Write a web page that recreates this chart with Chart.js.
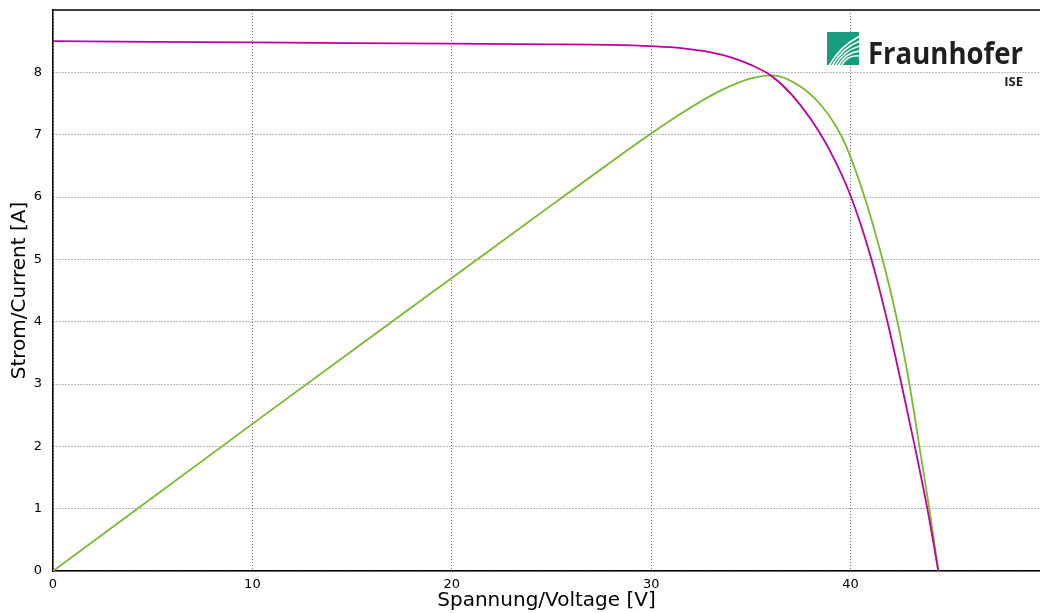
<!DOCTYPE html>
<html>
<head>
<meta charset="utf-8">
<script src="https://cdn.jsdelivr.net/npm/chart.js@4.4.1/dist/chart.umd.min.js"></script>
<style>
  html, body { margin: 0; padding: 0; background: #fff; }
  #wrap { width: 1040px; height: 613px; }
</style>
</head>
<body>
<div id="wrap"><canvas id="myChart"></canvas></div>
<script>
// Kennlinie: Spannung [V] / Strom [A]
var voltageIV = [0, 5, 10, 15, 20, 25, 28, 30, 31.5, 33, 34, 35, 36, 37, 38, 39, 40, 41, 41.85, 42.55, 43.22, 43.85, 44.4];
var currentIV = [8.50, 8.49, 8.48, 8.47, 8.46, 8.45, 8.44, 8.42, 8.39, 8.32, 8.24, 8.12, 7.95, 7.66, 7.25, 6.72, 6.02, 5.05, 4.00, 3.00, 2.00, 1.00, 0];

// Leistungskurve (skaliert)
var voltageP = [0, 10, 20, 25, 28.8, 30, 31.8, 33.5, 35.1, 36.1, 37.5, 38.5, 39.3, 39.8, 40.7, 41.6, 42.35, 42.95, 43.45, 43.95, 44.4];
var powerP = [0, 2.36, 4.70, 5.87, 6.75, 7.02, 7.40, 7.71, 7.91, 7.95, 7.77, 7.48, 7.12, 6.80, 6.00, 5.00, 4.00, 3.00, 2.00, 1.00, 0];

var xTicks = [0, 10, 20, 30, 40];
var yTicks = [0, 1, 2, 3, 4, 5, 6, 7, 8];

function toPoints(xs, ys) {
  return xs.map(function (x, i) { return { x: x, y: ys[i] }; });
}

// oberer Rahmen + Logo
var extras = {
  id: 'extras',
  afterDraw: function (chart) {
    var c = chart.ctx;
    var a = chart.chartArea;
    c.save();
    c.strokeStyle = '#000';
    c.lineWidth = 1.5;
    c.beginPath();
    c.moveTo(a.left, a.top);
    c.lineTo(a.right, a.top);
    c.stroke();

    // Fraunhofer Logo
    c.fillStyle = '#179c7d';
    c.fillRect(827, 32, 32, 33);
    c.save();
    c.beginPath();
    c.rect(827, 32, 32, 33);
    c.clip();
    c.strokeStyle = '#fff';
    c.lineWidth = 1.6;
    for (var i = 0; i < 5; i++) {
      c.beginPath();
      c.moveTo(829 + i * 3, 66);
      c.quadraticCurveTo(840 + i * 2, 46 + i * 2, 860, 36 + i * 5);
      c.stroke();
    }
    c.restore();

    c.fillStyle = '#1f1f1f';
    c.font = 'bold 30px "Open Sans"';
    c.textBaseline = 'alphabetic';
    c.textAlign = 'left';
    var w = c.measureText('Fraunhofer').width;
    c.save();
    c.translate(868, 64);
    c.scale(155 / w, 1);
    c.fillText('Fraunhofer', 0, 0);
    c.restore();
    c.font = 'bold 13px "Open Sans"';
    c.textAlign = 'right';
    c.fillText('ISE', 1023, 86);
    c.restore();
  }
};

var ctx = document.getElementById('myChart');

var myChart = new Chart(ctx, {
  type: 'line',
  data: {
    datasets: [{
      label: 'Strom',
      data: toPoints(voltageIV, currentIV),
      borderColor: '#c0009c',
      borderWidth: 1.8,
      pointRadius: 0,
      fill: false,
      cubicInterpolationMode: 'monotone'
    }, {
      label: 'Leistung',
      data: toPoints(voltageP, powerP),
      borderColor: '#7ab82c',
      borderWidth: 1.8,
      pointRadius: 0,
      fill: false,
      cubicInterpolationMode: 'monotone'
    }]
  },
  options: {
    responsive: true,
    maintainAspectRatio: false,
    animation: false,
    layout: { padding: { top: 10, right: 0, left: 0, bottom: 0 } },
    plugins: {
      legend: { display: false },
      tooltip: { enabled: false }
    },
    scales: {
      x: {
        type: 'linear',
        min: 0,
        max: 49.5,
        afterFit: function (s) { s.height = 42; s.paddingLeft = 0; s.paddingRight = 0; },
        afterBuildTicks: function (s) { s.ticks = xTicks.map(function (v) { return { value: v }; }); },
        ticks: {
          padding: 6,
          color: '#000',
          font: { family: 'DejaVu Sans', size: 13 }
        },
        grid: { color: '#777', drawTicks: false },
        border: { color: '#000', width: 1.5, dash: [1, 2] },
        title: {
          display: true,
          text: 'Spannung/Voltage [V]',
          color: '#000',
          padding: 0,
          font: { family: 'DejaVu Sans', size: 20 }
        }
      },
      y: {
        min: 0,
        max: 9,
        afterFit: function (s) { s.width = 53; s.paddingTop = 0; s.paddingBottom = 0; },
        afterBuildTicks: function (s) { s.ticks = yTicks.map(function (v) { return { value: v }; }); },
        ticks: {
          padding: 11,
          color: '#000',
          font: { family: 'DejaVu Sans', size: 13 }
        },
        grid: { color: '#777', drawTicks: false },
        border: { color: '#000', width: 1.5, dash: [1, 2] },
        title: {
          display: true,
          text: 'Strom/Current [A]',
          color: '#000',
          padding: { top: 8, bottom: 0 },
          font: { family: 'DejaVu Sans', size: 20 }
        }
      }
    }
  },
  plugins: [extras]
});
</script>
</body>
</html>
